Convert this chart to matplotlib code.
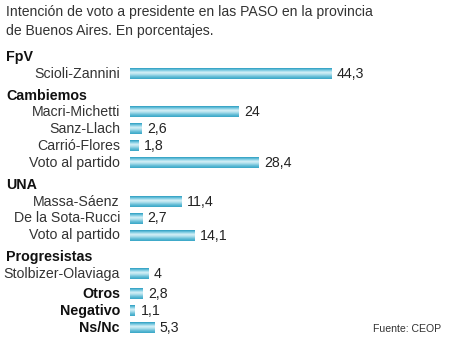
import numpy as np
import matplotlib.pyplot as plt
from matplotlib.colors import LinearSegmentedColormap

plt.rcParams['font.family'] = ['Liberation Sans', 'DejaVu Sans']

titulo = "Intención de voto a presidente en las PASO en la provincia\nde Buenos Aires. En porcentajes."
grupos = ["FpV", "Cambiemos", "UNA", "Progresistas"]
candidatos = [["Scioli-Zannini"],
              ["Macri-Michetti", "Sanz-Llach", "Carrió-Flores", "Voto al partido"],
              ["Massa-Sáenz", "De la Sota-Rucci", "Voto al partido"],
              ["Stolbizer-Olaviaga"]]
valores = [[44.3],
           [24, 2.6, 1.8, 28.4],
           [11.4, 2.7, 14.1],
           [4]]
otros = ["Otros", "Negativo", "Ns/Nc"]
otros_val = [2.8, 1.1, 5.3]
fuente = "Fuente: CEOP"

# gradiente de las barras (vertical, con rayas claras)
cmap = LinearSegmentedColormap.from_list("barra", ["#2e9fc2", "#7fcde3", "#d9f1f7", "#a6dcea", "#62bcd6", "#3aa7c7"])
grad = np.linspace(0, 1, 32).reshape(-1, 1)

fig = plt.figure(figsize=(4.5, 3.5), dpi=100)
# ejes en pixeles verticales, porcentaje horizontal
px_por_unidad = 4.54
x0 = 130
ax = fig.add_axes([x0 / 450, 0, (450 - x0) / 450, 1])
ax.set_xlim(0, (450 - x0) / px_por_unidad)
ax.set_ylim(350, 0)
ax.axis('off')

def fmt(v):
    s = ("%.1f" % v).replace(".", ",")
    return s[:-2] if s.endswith(",0") else s

def barra(y, v):
    h = 10.5
    ax.imshow(grad, cmap=cmap, aspect='auto', extent=[0, v, y + h / 2, y - h / 2],
              origin='upper', interpolation='bilinear', zorder=2)
    ax.text(v + 5 / px_por_unidad + 0.1, y, fmt(v), ha='left', va='center',
            fontsize=10.2, color='#222222')

etiq_x = -10 / px_por_unidad
izq = -124 / px_por_unidad

fig.text(6 / 450, 1 - 5 / 350, titulo, ha='left', va='top', fontsize=10.1,
         color='#333333', linespacing=1.45)

y = 57
for i, g in enumerate(grupos):
    if i > 0:
        y += 22
    ax.text(izq, y, g, ha='left', va='center', fontsize=10.3, fontweight='bold', color='#111111')
    y += 16.5
    for j, (c, v) in enumerate(zip(candidatos[i], valores[i])):
        if j > 0:
            y += 17
        ax.text(etiq_x, y, c, ha='right', va='center', fontsize=10.2, color='#333333')
        barra(y, v)

y += 20
for j, (c, v) in enumerate(zip(otros, otros_val)):
    if j > 0:
        y += 17
    ax.text(etiq_x, y, c, ha='right', va='center', fontsize=10.3, fontweight='bold', color='#111111')
    barra(y, v)

fig.text(441 / 450, 1 - 329 / 350, fuente, ha='right', va='center', fontsize=7.6, color='#333333')

ax.set_xlim(0, (450 - x0) / px_por_unidad)
ax.set_ylim(350, 0)
fig.savefig("out.png", dpi=100)
